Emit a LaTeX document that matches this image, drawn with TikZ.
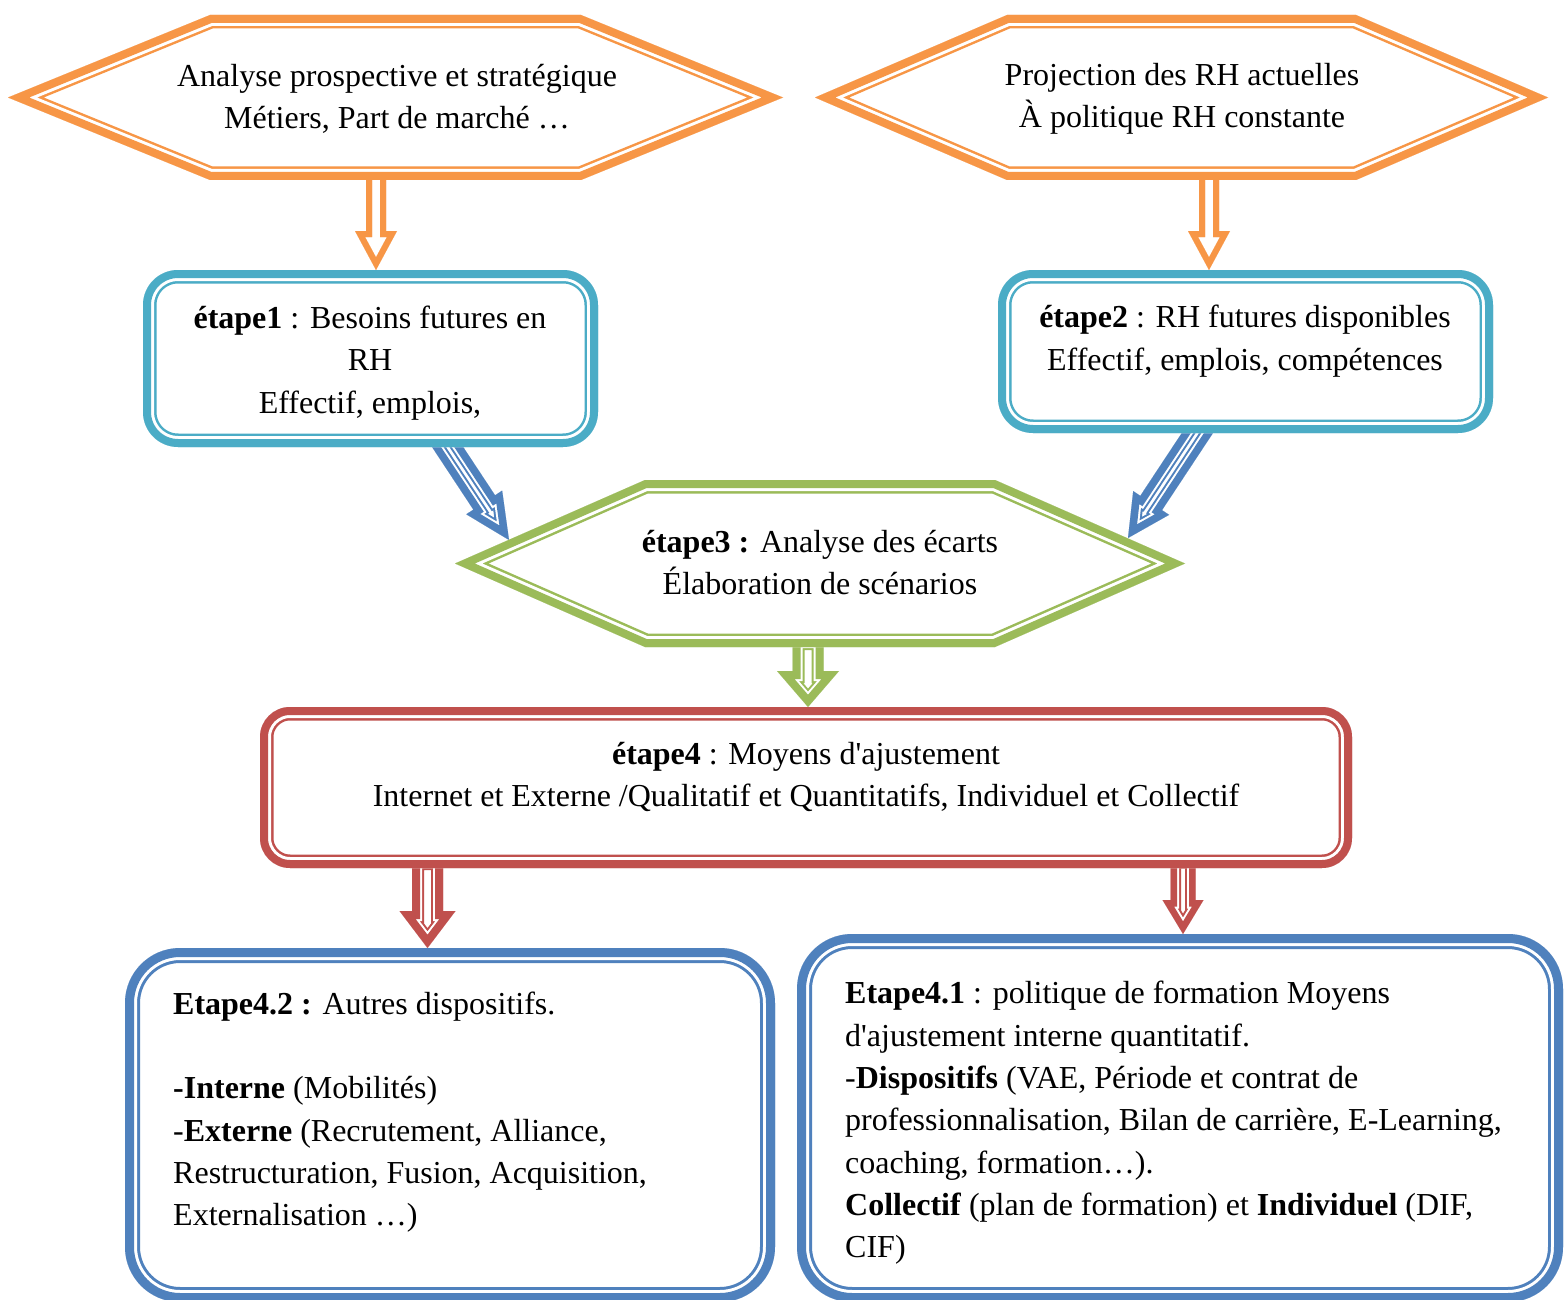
\documentclass[tikz,border=0pt]{standalone}
\usepackage{fontspec}
\setmainfont{Liberation Serif}[Ligatures=TeXOff]
\usetikzlibrary{calc}
\definecolor{orng}{HTML}{F79646}
\definecolor{cyn}{HTML}{4BACC6}
\definecolor{blu}{HTML}{4F81BD}
\definecolor{grn}{HTML}{9BBB59}
\definecolor{rd}{HTML}{C0504D}

% #1 colour, #2 thick, #3 gap, #4 thin, #5 path (outer edge)
\newcommand\dblshape[5]{%
  \begin{scope}
    \clip #5;
    \fill[white] #5;
    \draw[#1,line width={2*(#2+#3+#4)}] #5;
    \draw[white,line width={2*(#2+#3)}] #5;
    \draw[#1,line width={2*#2}] #5;
  \end{scope}}

% #1 name, #2 start, #3 end, #4 shaft half width, #5 head half width, #6 head length
\newcommand\mkarrow[6]{%
  \coordinate (#1-s) at (#2);
  \coordinate (#1-e) at (#3);
  \coordinate (#1-h) at ($(#1-e)!#6pt!(#1-s)$);
  \coordinate (#1-1) at ($(#1-s)!#4pt!90:(#1-e)$);
  \coordinate (#1-2) at ($(#1-h)!#4pt!90:(#1-e)$);
  \coordinate (#1-3) at ($(#1-h)!#5pt!90:(#1-e)$);
  \coordinate (#1-4) at ($(#1-h)!#5pt!-90:(#1-e)$);
  \coordinate (#1-5) at ($(#1-h)!#4pt!-90:(#1-e)$);
  \coordinate (#1-6) at ($(#1-s)!#4pt!-90:(#1-e)$);}
\newcommand\arrowpoly[1]{(#1-1) -- (#1-2) -- (#1-3) -- (#1-e) -- (#1-4) -- (#1-5) -- (#1-6) -- cycle}

\tikzset{
  frame/.style={shape=rectangle, inner sep=0pt, outer sep=0pt},
  txt/.style={align=center, inner sep=0pt, font=\fontsize{32}{42.3}\selectfont},
  txtl/.style={align=left, inner sep=0pt, font=\fontsize{32}{42.3}\selectfont},
}

\begin{document}
\begin{tikzpicture}[x=1pt,y=-1pt,line join=miter]
\useasboundingbox[fill=white] (0,0) rectangle (1565,1300);

% frames (shape nodes)
\node[frame,minimum width=775pt,minimum height=165pt] (hexA) at (395.5,97.5) {};
\node[frame,minimum width=733pt,minimum height=165pt] (hexB) at (1181.5,97.5) {};
\node[frame,minimum width=455pt,minimum height=177pt] (boxA) at (370.5,358.5) {};
\node[frame,minimum width=495pt,minimum height=163pt] (boxB) at (1245.5,351.5) {};
\node[frame,minimum width=730pt,minimum height=167pt] (hexC) at (820,563.5) {};
\node[frame,minimum width=1092pt,minimum height=161pt] (boxD) at (806,787.5) {};
\node[frame,minimum width=650pt,minimum height=354pt] (boxE) at (450,1125) {};
\node[frame,minimum width=766pt,minimum height=368pt] (boxF) at (1180,1118) {};

% arrows (drawn first, tails hidden under the shapes)
\mkarrow{a1}{[xshift=-19.5pt,yshift=10pt]hexA.south}{[xshift=5.5pt]boxA.north}{10}{21}{39}
\mkarrow{a2}{[xshift=27.5pt,yshift=10pt]hexB.south}{[xshift=-36.5pt]boxB.north}{10}{21}{39}
\mkarrow{a3}{[xshift=70.5pt,yshift=10pt]boxA.south}{[xshift=54pt,yshift=23.5pt]hexC.west}{13}{21.5}{45}
\mkarrow{a4}{[xshift=-41.5pt,yshift=10pt]boxB.south}{[xshift=-57pt,yshift=25.5pt]hexC.east}{13}{21.5}{42}
\mkarrow{a5}{[xshift=-12pt,yshift=9pt]hexC.south}{[xshift=2pt]boxD.north}{15.5}{31}{36}
\mkarrow{a6}{[xshift=-378.5pt,yshift=10pt]boxD.south}{[xshift=-22.5pt]boxE.north}{15.5}{28}{37}
\mkarrow{a7}{[xshift=377pt,yshift=10pt]boxD.south}{[xshift=3pt]boxF.north}{12.5}{20.5}{34}

\dblshape{orng}{6}{0}{0}{\arrowpoly{a1}}
\dblshape{orng}{6}{0}{0}{\arrowpoly{a2}}
\dblshape{blu}{7.5}{2}{2}{\arrowpoly{a3}}
\dblshape{blu}{7.5}{2}{2}{\arrowpoly{a4}}
\dblshape{grn}{8}{2}{2}{\arrowpoly{a5}}
\dblshape{rd}{8}{2}{2}{\arrowpoly{a6}}
\dblshape{rd}{6.5}{2}{2}{\arrowpoly{a7}}

% shapes
\dblshape{orng}{8}{3}{2.5}{(hexA.west) -- ([xshift=202pt]hexA.north west) -- ([xshift=-202pt]hexA.north east) -- (hexA.east) -- ([xshift=-202pt]hexA.south east) -- ([xshift=202pt]hexA.south west) -- cycle}
\dblshape{orng}{8}{3}{2.5}{(hexB.west) -- ([xshift=192pt]hexB.north west) -- ([xshift=-192pt]hexB.north east) -- (hexB.east) -- ([xshift=-192pt]hexB.south east) -- ([xshift=192pt]hexB.south west) -- cycle}
\dblshape{grn}{8}{3}{2.5}{(hexC.west) -- ([xshift=190pt]hexC.north west) -- ([xshift=-190pt]hexC.north east) -- (hexC.east) -- ([xshift=-190pt]hexC.south east) -- ([xshift=190pt]hexC.south west) -- cycle}
\dblshape{cyn}{8}{3}{2.5}{[rounded corners=35pt] (boxA.south west) rectangle (boxA.north east)}
\dblshape{cyn}{8}{3}{2.5}{[rounded corners=35pt] (boxB.south west) rectangle (boxB.north east)}
\dblshape{rd}{8}{3}{2.5}{[rounded corners=30pt] (boxD.south west) rectangle (boxD.north east)}
\dblshape{blu}{9}{3}{3}{[rounded corners=55pt] (boxE.south west) rectangle (boxE.north east)}
\dblshape{blu}{9}{3}{3}{[rounded corners=55pt] (boxF.south west) rectangle (boxF.north east)}

% texts
\node[txt] (tA) at (397,99) {Analyse prospective et stratégique\\Métiers, Part de marché …};
\node[txt] (tB) at (1182,99) {Projection des RH actuelles\\À politique RH constante};
\node[txt] (tC) at (370,363) {\textbf{étape1} : Besoins futures en\\RH\\Effectif, emplois,};
\node[txt] (tD) at (1245,341) {\textbf{étape2} : RH futures disponibles\\Effectif, emplois, compétences};
\node[txt] (tE) at (820,562.5) {\textbf{étape3 :} Analyse des écarts\\Élaboration de scénarios};
\node[txt] (tF) at (806,777) {\textbf{étape4} : Moyens d'ajustement\\Internet et Externe /Qualitatif et Quantitatifs, Individuel et Collectif};
\node[txtl,anchor=west] (tG) at (173,1112) {\textbf{Etape4.2 :} Autres dispositifs.\\[42.3pt]\textbf{-Interne} (Mobilités)\\-\textbf{Externe} (Recrutement, Alliance,\\Restructuration, Fusion, Acquisition,\\Externalisation …)};
\node[txtl,anchor=west] (tH) at (845,1123) {\textbf{Etape4.1} : politique de formation Moyens\\d'ajustement interne quantitatif.\\-\textbf{Dispositifs} (VAE, Période et contrat de\\professionnalisation, Bilan de carrière, E-Learning,\\coaching, formation…).\\\textbf{Collectif} (plan de formation) et \textbf{Individuel} (DIF,\\CIF)};
\end{tikzpicture}
\end{document}
